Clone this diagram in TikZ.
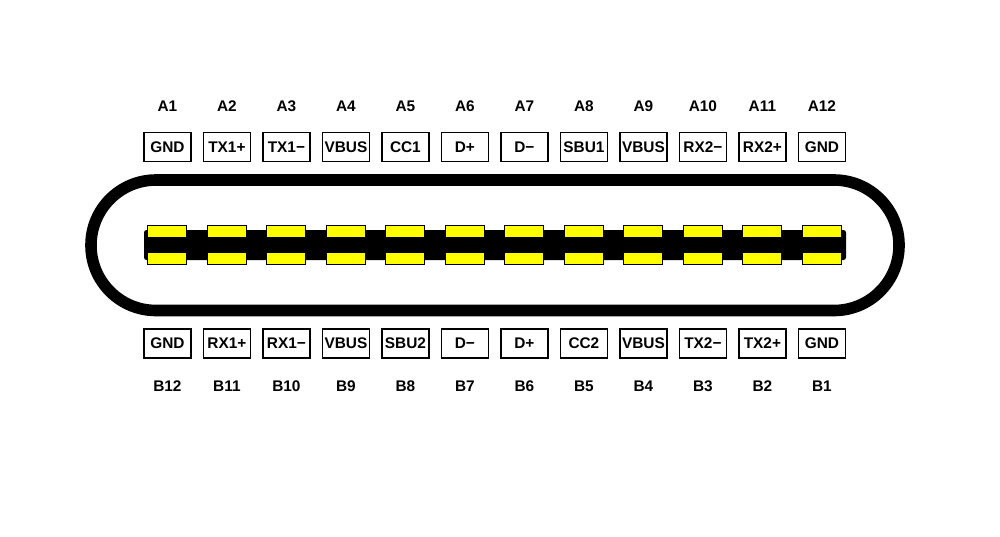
\documentclass[tikz,border=0pt]{standalone}
\usepackage{fontspec}
\setmainfont{Liberation Sans}
\definecolor{pinyellow}{RGB}{255,255,0}
\tikzset{
  pinlabel/.style={font=\bfseries\fontsize{15.4}{18}\selectfont, inner sep=0pt, text height=11pt, text depth=0pt},
  signalbox/.style={draw=black, line width=1.5pt, fill=white, minimum width=47pt, minimum height=29pt, inner sep=0pt, font=\bfseries\fontsize{15.4}{18}\selectfont, text height=11pt, text depth=0pt},
  contact/.style={draw=black, line width=1pt, fill=pinyellow, minimum width=39pt, minimum height=12pt, inner sep=0pt},
  shell/.style={draw=black, line width=11.6pt, rounded corners=65pt},
  tongue/.style={fill=black, rounded corners=2.5pt}
}
\begin{document}
\begin{tikzpicture}[x=1pt,y=-1pt]
\useasboundingbox (0,0) rectangle (1000,536);
\fill[white] (0,0) rectangle (1000,536);
\draw[shell] (91,180) rectangle (899,310.5);
\fill[tongue] (144,230) rectangle (846,260);
\foreach \i/\an/\at/\bn/\bt in {
  0/A1/GND/B12/GND, 1/A2/TX1+/B11/RX1+, 2/A3/TX1−/B10/RX1−, 3/A4/VBUS/B9/VBUS,
  4/A5/CC1/B8/SBU2, 5/A6/D+/B7/D−, 6/A7/D−/B6/D+, 7/A8/SBU1/B5/CC2,
  8/A9/VBUS/B4/VBUS, 9/A10/RX2−/B3/TX2−, 10/A11/RX2+/B2/TX2+, 11/A12/GND/B1/GND}{
  \pgfmathsetmacro{\px}{167.4+59.5*\i}
  \node[pinlabel] (name\an) at (\px,106) {\an};
  \node[signalbox] (sig\an) at (\px,147) {\at};
  \node[contact] (pin\an) at (\px,231.6) {};
  \node[contact] (pin\bn) at (\px,258.8) {};
  \node[signalbox] (sig\bn) at (\px,343.3) {\bt};
  \node[pinlabel] (name\bn) at (\px,385.5) {\bn};
}
\end{tikzpicture}
\end{document}
